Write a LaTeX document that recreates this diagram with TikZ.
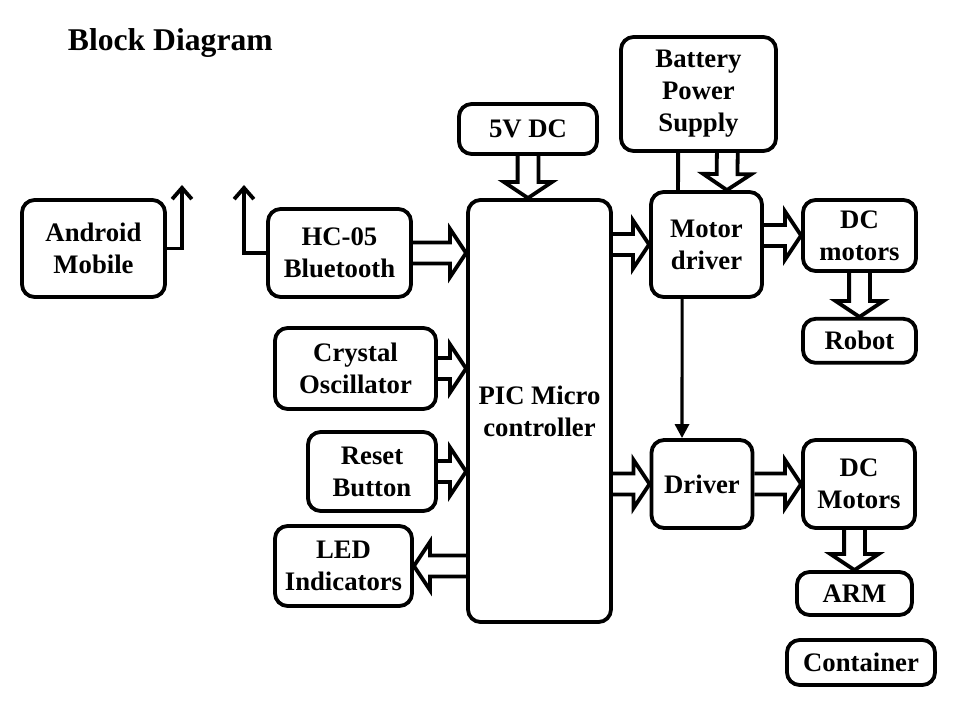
\documentclass[tikz,border=0pt]{standalone}
\usepackage{fontspec}
\setmainfont{Liberation Serif}
\usetikzlibrary{arrows.meta, positioning, calc}
\tikzset{
  blk/.style={rectangle, rounded corners=9pt, draw=black, line width=2.7pt,
              minimum width=#1, inner sep=0pt, align=center},
  blk/.default=3cm,
  fatline/.style={draw=black, line width=2.7pt},
  wire/.style={line width=2.7pt},
  antarr/.style={wire, -{Straight Barb[length=8pt, width=14pt, line width=2.7pt]}},
  sarr/.style={line width=2.2pt, -{Triangle[length=10pt, width=10pt]}},
}
% hollow block arrow, from #1 to the tip #2
\newcommand{\fatarrow}[2]{%
  \coordinate (fa-s) at (#1);
  \coordinate (fa-t) at (#2);
  \coordinate (fa-b) at ($(fa-t)!0.4cm!(fa-s)$);
  \draw[fatline] ($(fa-s)!0.26cm!90:(fa-t)$) -- ($(fa-b)!0.26cm!-90:(fa-s)$)
    -- ($(fa-b)!0.6cm!-90:(fa-s)$) -- (fa-t) -- ($(fa-b)!0.6cm!90:(fa-s)$)
    -- ($(fa-b)!0.26cm!90:(fa-s)$) -- ($(fa-s)!0.26cm!-90:(fa-t)$);
}
\begin{document}
\begin{tikzpicture}[
  x=0.025cm, y=-0.025cm,
  every node/.style={font=\bfseries\fontsize{19}{22.8}\selectfont},
]
  \useasboundingbox (0,0) rectangle (960,720);
  \node[anchor=west, font=\bfseries\fontsize{22.5}{27}\selectfont] (title) at (63,43) {Block Diagram};

  \node[blk=3.575cm, minimum height=2.425cm] (android) at (93.5,248.5) {Android\\Mobile};
  \node[blk=3.575cm, minimum height=2.2cm] (hc) at (339.5,253) {HC-05\\Bluetooth};
  \node[blk=3.45cm, minimum height=1.25cm] (v5) at (528,129) {5V DC};
  \node[blk=3.875cm, minimum height=2.85cm] (bat) at (698.5,94) {Battery\\Power\\Supply};
  \node[blk=3.575cm, minimum height=10.55cm] (pic) at (539.5,411) {PIC Micro\\controller};
  \node[blk=2.775cm, minimum height=2.625cm] (mdrv) at (706.5,244.5) {Motor\\driver};
  \node[blk=2.825cm, minimum height=1.775cm] (dcm) at (859.5,235.5) {DC\\motors};
  \node[blk=2.825cm, minimum height=1.1cm, below=1.1cm of dcm] (rob) {Robot};
  \node[blk=4.025cm, minimum height=2.025cm] (xtal) at (355.5,368.5) {Crystal\\Oscillator};
  \node[blk=3.2cm, minimum height=1.975cm] (rst) at (372,471.5) {Reset\\Button};
  \node[blk=3.425cm, minimum height=2cm] (led) at (343.5,566) {LED\\Indicators};
  \node[blk=2.525cm, minimum height=2.2cm] (drv) at (702,484) {Driver};
  \node[blk=2.8cm, minimum height=2.2cm] (dcM) at (859,484) {DC\\Motors};
  \node[blk=2.875cm, minimum height=1.075cm] (arm) at (854.5,593.5) {ARM};
  \node[blk=3.7cm, minimum height=1.125cm] (cont) at (861,662.5) {Container};

  % antennas
  \coordinate (antA) at (182,185);
  \coordinate (antB) at (244,185);
  \draw[antarr] (android.east) -| (antA);
  \draw[antarr] (hc.west) -| (antB);

  % block arrows
  \fatarrow{hc.east}{hc.east -| pic.west}
  \fatarrow{xtal.east}{xtal.east -| pic.west}
  \fatarrow{rst.east}{rst.east -| pic.west}
  \fatarrow{led.east -| pic.west}{led.east}
  \fatarrow{v5.south}{v5.south |- pic.north}
  \fatarrow{mdrv.west -| pic.east}{mdrv.west}
  \fatarrow{drv.west -| pic.east}{drv.west}
  \fatarrow{mdrv.east |- dcm.west}{dcm.west}
  \fatarrow{drv.east}{dcM.west}
  \fatarrow{dcm.south}{rob.north}
  \fatarrow{arm.north |- dcM.south}{arm.north}
  \fatarrow{[xshift=0.72cm]bat.south}{[xshift=0.51cm]mdrv.north}

  \draw[wire] ([xshift=-0.51cm]bat.south) -- ([xshift=-0.71cm]mdrv.north);
  \draw[sarr] ([xshift=-0.61cm]mdrv.south) -- ([xshift=-0.5cm]drv.north);
\end{tikzpicture}
\end{document}
